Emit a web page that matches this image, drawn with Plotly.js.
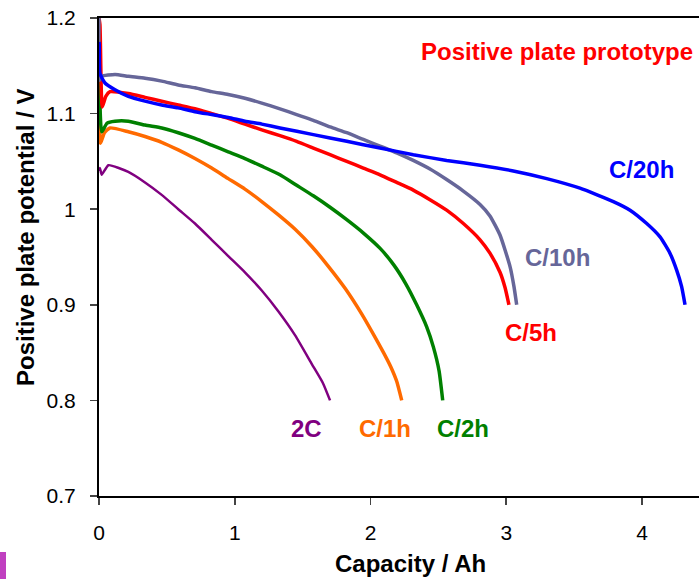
<!DOCTYPE html>
<html>
<head>
<meta charset="utf-8">
<script src="https://cdn.plot.ly/plotly-3.0.1.min.js"></script>
<style>html,body{margin:0;padding:0;background:#fff;overflow:hidden}</style>
</head>
<body>
<div id="chart" style="width:699px;height:579px"></div>
<script>
// Data (Capacity / Ah vs Potential / V)
var x2C = [0, 0.007, 0.02, 0.069, 0.216, 0.339, 0.462, 0.584, 0.707, 0.830, 0.952, 1.075, 1.199, 1.322, 1.445, 1.568, 1.650, 1.702];
var y2C = [1.040, 1.043, 1.036, 1.046, 1.039, 1.028, 1.015, 1.000, 0.985, 0.968, 0.951, 0.934, 0.915, 0.893, 0.868, 0.838, 0.818, 0.800];

var xC1 = [0, 0.002, 0.011, 0.04, 0.081, 0.216, 0.339, 0.462, 0.584, 0.707, 0.830, 0.952, 1.075, 1.199, 1.322, 1.445, 1.568, 1.691, 1.814, 1.937, 2.030, 2.100, 2.150, 2.193, 2.230];
var yC1 = [1.120, 1.116, 1.069, 1.080, 1.085, 1.081, 1.076, 1.070, 1.062, 1.053, 1.043, 1.032, 1.021, 1.008, 0.994, 0.979, 0.961, 0.940, 0.917, 0.890, 0.867, 0.849, 0.835, 0.820, 0.800];

var xC2 = [0, 0.005, 0.02, 0.06, 0.118, 0.216, 0.339, 0.462, 0.584, 0.707, 0.830, 0.952, 1.075, 1.199, 1.333, 1.456, 1.579, 1.702, 1.825, 1.948, 2.071, 2.170, 2.260, 2.340, 2.414, 2.463, 2.505, 2.532];
var yC2 = [1.141, 1.120, 1.081, 1.090, 1.092, 1.092, 1.088, 1.085, 1.080, 1.074, 1.067, 1.060, 1.053, 1.045, 1.036, 1.025, 1.014, 1.002, 0.989, 0.975, 0.959, 0.942, 0.922, 0.900, 0.877, 0.856, 0.831, 0.800];

var xC5 = [0, 0.007, 0.024, 0.05, 0.081, 0.216, 0.339, 0.462, 0.584, 0.707, 0.830, 0.952, 1.075, 1.199, 1.333, 1.456, 1.579, 1.702, 1.825, 1.947, 2.070, 2.193, 2.315, 2.438, 2.561, 2.684, 2.807, 2.880, 2.954, 2.991, 3.020];
var yC5 = [1.200, 1.193, 1.107, 1.118, 1.123, 1.121, 1.117, 1.113, 1.109, 1.105, 1.100, 1.095, 1.089, 1.083, 1.077, 1.071, 1.064, 1.057, 1.050, 1.043, 1.036, 1.028, 1.020, 1.010, 0.999, 0.985, 0.968, 0.954, 0.934, 0.918, 0.900];

var xC10 = [0, 0.005, 0.02, 0.118, 0.216, 0.339, 0.462, 0.584, 0.707, 0.830, 0.952, 1.075, 1.199, 1.333, 1.456, 1.579, 1.702, 1.825, 1.947, 2.070, 2.193, 2.315, 2.438, 2.561, 2.684, 2.807, 2.880, 2.954, 3.028, 3.057, 3.077];
var yC10 = [1.200, 1.135, 1.139, 1.141, 1.139, 1.137, 1.134, 1.130, 1.127, 1.123, 1.120, 1.116, 1.111, 1.105, 1.099, 1.093, 1.086, 1.080, 1.073, 1.066, 1.059, 1.051, 1.042, 1.031, 1.019, 1.005, 0.993, 0.973, 0.940, 0.919, 0.900];

var xC20 = [0, 0.002, 0.007, 0.044, 0.118, 0.216, 0.339, 0.462, 0.584, 0.707, 0.830, 0.952, 1.075, 1.199, 1.333, 1.579, 1.825, 2.070, 2.315, 2.561, 2.807, 3.052, 3.298, 3.543, 3.789, 3.912, 4.035, 4.133, 4.206, 4.256, 4.292, 4.317];
var yC20 = [1.175, 1.172, 1.142, 1.132, 1.125, 1.118, 1.113, 1.109, 1.106, 1.102, 1.099, 1.096, 1.092, 1.089, 1.085, 1.078, 1.071, 1.064, 1.057, 1.051, 1.046, 1.040, 1.032, 1.022, 1.008, 0.999, 0.985, 0.971, 0.954, 0.936, 0.919, 0.900];

var seriesNames = ['2C', 'C/1h', 'C/2h', 'C/5h', 'C/10h', 'C/20h'];
var seriesColors = ['#800080', '#ff6a00', '#008000', '#ff0000', '#666699', '#0000ff'];
var seriesWidths = [2.5, 3.5, 3.5, 3.5, 3.5, 3.5];
var seriesX = [x2C, xC1, xC2, xC5, xC10, xC20];
var seriesY = [y2C, yC1, yC2, yC5, yC10, yC20];

// label positions (data coords)
var labelX = [1.525, 2.107, 2.681, 3.182, 3.381, 3.993];
var labelY = [0.771, 0.771, 0.771, 0.871, 0.950, 1.042];

var xTicks = [0, 1, 2, 3, 4];
var yTicks = [0.7, 0.8, 0.9, 1.0, 1.1, 1.2];
var yTickText = ['0.7', '0.8', '0.9', '1', '1.1', '1.2'];

var traces = seriesNames.map(function (n, i) {
  return {
    x: seriesX[i], y: seriesY[i], name: n, type: 'scatter', mode: 'lines',
    line: {color: seriesColors[i], width: seriesWidths[i], shape: 'spline', smoothing: 0.5},
    hoverinfo: 'x+y+name'
  };
});

var annotations = seriesNames.map(function (n, i) {
  return {
    x: labelX[i], y: labelY[i], xref: 'x', yref: 'y', text: n, showarrow: false,
    font: {family: 'Liberation Sans, Arial, sans-serif', size: 24, color: seriesColors[i], weight: 'bold'},
    xanchor: 'center', yanchor: 'middle'
  };
});
annotations.push({
  x: 3.374, y: 1.165, xref: 'x', yref: 'y', text: 'Positive plate prototype', showarrow: false,
  font: {family: 'Liberation Sans, Arial, sans-serif', size: 24, color: '#ff0000', weight: 'bold'},
  xanchor: 'center', yanchor: 'middle'
});
annotations.push({
  x: (410 - 99) / 600, y: -(563 - 496) / 478, xref: 'paper', yref: 'paper',
  text: 'Capacity / Ah', showarrow: false,
  font: {family: 'Liberation Sans, Arial, sans-serif', size: 24, color: '#000', weight: 'bold'},
  xanchor: 'center', yanchor: 'middle'
});
annotations.push({
  x: -(99 - 25) / 600, y: (496 - 238) / 478, xref: 'paper', yref: 'paper',
  text: 'Positive plate potential / V', showarrow: false, textangle: -90,
  font: {family: 'Liberation Sans, Arial, sans-serif', size: 24, color: '#000', weight: 'bold'},
  xanchor: 'center', yanchor: 'middle'
});

var layout = {
  width: 699, height: 579,
  margin: {l: 99, r: 0, t: 18, b: 83, pad: 0},
  paper_bgcolor: '#fff', plot_bgcolor: '#fff',
  showlegend: false,
  font: {family: 'Liberation Sans, Arial, sans-serif', size: 21, color: '#000'},
  xaxis: {
    range: [0, 4.42], tickvals: xTicks, ticktext: xTicks.map(String),
    showgrid: false, zeroline: false, showline: true, linecolor: '#000', linewidth: 2,
    mirror: true, ticks: 'outside', ticklen: 7, tickcolor: '#444', tickwidth: 1.5,
    ticklabelstandoff: 10, tickfont: {size: 21, color: '#000'}
  },
  yaxis: {
    range: [0.7, 1.2], tickvals: yTicks, ticktext: yTickText,
    showgrid: false, zeroline: false, showline: true, linecolor: '#000', linewidth: 2,
    mirror: false, ticks: 'outside', ticklen: 7, tickcolor: '#444', tickwidth: 1.5,
    ticklabelstandoff: 10, tickfont: {size: 21, color: '#000'}
  },
  annotations: annotations,
  shapes: [{
    type: 'rect', xref: 'paper', yref: 'paper',
    x0: -99 / 600, x1: -93 / 600, y0: -(579 - 496) / 478, y1: -(552 - 496) / 478,
    fillcolor: '#c040c0', line: {width: 0}, layer: 'above'
  }]
};

Plotly.newPlot('chart', traces, layout, {displayModeBar: false, staticPlot: true});
</script>
</body>
</html>
